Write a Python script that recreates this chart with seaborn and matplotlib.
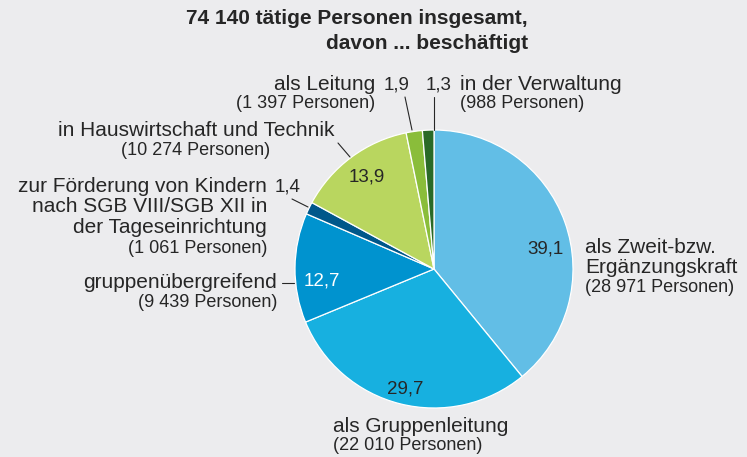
import matplotlib.pyplot as plt
import seaborn as sns

sns.set_theme(style="white")
plt.rcParams['font.family'] = ['Liberation Sans', 'DejaVu Sans']

# Data (Tageseinrichtungen, tätige Personen nach Arbeitsbereich)
title_lines = ["74 140 tätige Personen insgesamt,", "davon ... beschäftigt"]
categories = [
    ["als Zweit-bzw.", "Ergänzungskraft"],
    ["als Gruppenleitung"],
    ["gruppenübergreifend"],
    ["zur Förderung von Kindern", "nach SGB VIII/SGB XII in", "der Tageseinrichtung"],
    ["in Hauswirtschaft und Technik"],
    ["als Leitung"],
    ["in der Verwaltung"],
]
persons = [28971, 22010, 9439, 1061, 10274, 1397, 988]
shares = [39.1, 29.7, 12.7, 1.4, 13.9, 1.9, 1.3]
colors = ["#62bee6", "#17b0e0", "#0093cf", "#00578a", "#b9d65f", "#8abd3a", "#2a6a27"]

W, H = 747, 457
BG = "#ececee"
TXT = "#262626"

fig = plt.figure(figsize=(W / 100, H / 100), dpi=100, facecolor=BG)
ax = fig.add_axes([0, 0, 1, 1])
ax.set_facecolor(BG)

cx, cy, R = 434, 269, 139
ax.pie(persons, colors=colors, startangle=90, counterclock=False,
       center=(cx, H - cy), radius=R,
       wedgeprops=dict(edgecolor="white", linewidth=0.9))
ax.set_xlim(0, W)
ax.set_ylim(0, H)
ax.axis("off")


def txt(x, y, s, size=15, ha="left", color=TXT, weight="normal"):
    ax.text(x, H - y, s, fontsize=size, ha=ha, va="baseline", color=color,
            fontweight=weight)


def line(x1, y1, x2, y2):
    ax.plot([x1, x2], [H - y1, H - y2], color=TXT, lw=0.8)


def pct(v):
    return f"{v:.1f}".replace(".", ",")


def pers(n):
    return f"({n:,} Personen)".replace(",", " ")


# title
txt(528, 24, title_lines[0], size=15, ha="right", weight="bold")
txt(528, 49, title_lines[1], size=15, ha="right", weight="bold")

# als Zweit-bzw. Ergänzungskraft
txt(545, 253, pct(shares[0]), size=13.5, ha="center")
txt(585, 253, categories[0][0])
txt(585, 273, categories[0][1])
txt(585, 292, pers(persons[0]), size=13)

# als Gruppenleitung
txt(405, 393, pct(shares[1]), size=13.5, ha="center")
txt(333, 432, categories[1][0])
txt(333, 450, pers(persons[1]), size=13)

# gruppenübergreifend
txt(322, 285, pct(shares[2]), size=13.5, ha="center", color="white")
txt(277, 288, categories[2][0], ha="right")
txt(277, 307, pers(persons[2]), size=13, ha="right")
line(282, 283, 294, 283)

# Förderung von Kindern
txt(275, 192, pct(shares[3]), size=13.5)
for i, s in enumerate(categories[3]):
    txt(267, 192 + 20.5 * i, s, ha="right")
txt(267, 253, pers(persons[3]), size=13, ha="right")
line(292, 199, 308, 207)

# Hauswirtschaft und Technik
txt(367, 182, pct(shares[4]), size=13.5, ha="center")
txt(196, 136, categories[4][0], ha="center")
txt(196, 155, pers(persons[4]), size=13, ha="center")
line(338, 143, 350, 157)

# als Leitung
txt(384, 90, pct(shares[5]), size=13.5)
txt(375, 90, categories[5][0], ha="right")
txt(375, 108, pers(persons[5]), size=13, ha="right")
line(405, 97, 412, 130)

# in der Verwaltung
txt(426, 90, pct(shares[6]), size=13.5)
txt(460, 90, categories[6][0])
txt(460, 108, pers(persons[6]), size=13)
line(434, 97, 434, 130)

fig.savefig("out.png", dpi=100, facecolor=BG)
